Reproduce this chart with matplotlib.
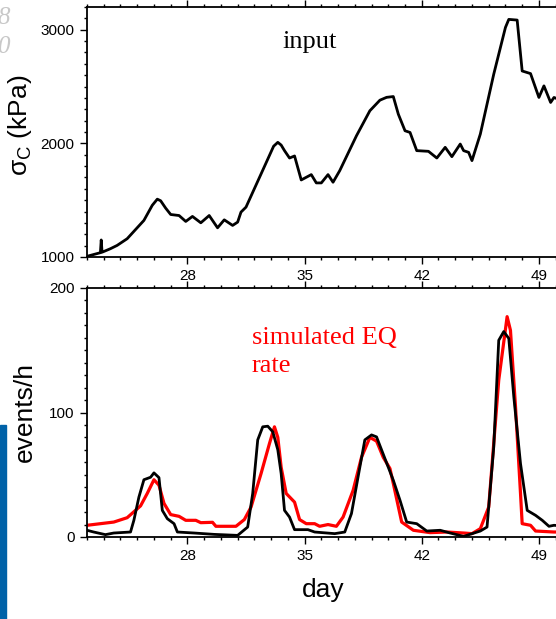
import numpy as np
import matplotlib
matplotlib.use("Agg")
import matplotlib.pyplot as plt
from matplotlib.ticker import MultipleLocator
from matplotlib.patches import Rectangle

plt.rcParams["font.family"] = ["Liberation Sans", "DejaVu Sans"]
plt.rcParams["mathtext.fontset"] = "custom"
plt.rcParams["mathtext.rm"] = "Liberation Sans"
plt.rcParams["mathtext.it"] = "Liberation Sans"

# stress input, kPa
day_in = [22.0, 22.8, 22.85, 22.9, 23.4, 23.8, 24.4, 25.4, 25.9, 26.2, 26.4, 26.7, 27.0,
          27.5, 27.9, 28.3, 28.8, 29.3, 29.8, 30.2, 30.7, 31.0, 31.2, 31.5, 32.4,
          33.15, 33.4, 33.6, 33.8, 34.1, 34.4, 34.8, 35.4, 35.7, 36.0, 36.4, 36.7,
          37.1, 38.1, 38.9, 39.5, 39.9, 40.3, 40.6, 41.0, 41.3, 41.7, 42.4, 42.9,
          43.4, 43.8, 44.3, 44.5, 44.8, 45.0, 45.5, 46.3, 47.0, 47.2, 47.7, 48.0,
          48.5, 49.0, 49.3, 49.7, 49.9, 50.3]
stress = [1006, 1038, 1150, 1042, 1073, 1102, 1161, 1322, 1455, 1509, 1495, 1430, 1374,
          1365, 1313, 1357, 1301, 1365, 1257, 1327, 1278, 1307, 1395, 1439, 1731,
          1975, 2009, 1985, 1936, 1871, 1889, 1678, 1725, 1652, 1652, 1725, 1658,
          1760, 2067, 2287, 2380, 2405, 2412, 2257, 2111, 2096, 1936, 1930, 1871,
          1965, 1883, 1994, 1936, 1921, 1848, 2082, 2608, 3020, 3091, 3085, 2637,
          2614, 2404, 2506, 2360, 2404, 2380]

# simulated EQ rate (red)
day_sim = [22.0, 23.6, 24.4, 25.2, 25.6, 26.0, 26.3, 26.6, 27.0, 27.5, 27.9, 28.5, 28.8,
           29.5, 29.7, 30.9, 31.4, 31.8, 32.4, 32.9, 33.2, 33.4, 33.6, 33.9, 34.4,
           34.7, 35.1, 35.6, 35.9, 36.4, 36.9, 37.3, 37.9, 38.4, 38.9, 39.3, 39.7,
           40.1, 40.3, 40.8, 41.5, 42.5, 43.5, 44.5, 45.0, 45.5, 46.0, 46.6, 47.1,
           47.3, 47.6, 47.9, 48.0, 48.5, 48.8, 49.9, 50.3]
rate_sim = [9.4, 12, 15.5, 25, 35, 46, 41.6, 27, 18, 16.6, 13.4, 13.4, 11.5,
            11.8, 8.6, 8.6, 14, 24, 51, 75, 88.5, 80, 56, 35, 28,
            14, 10.7, 10.7, 8.6, 10, 8.6, 16, 37.5, 64, 80, 77, 64,
            55, 43, 12, 5.4, 3.5, 4, 3.2, 2.7, 6.7, 24, 126, 177,
            166, 105, 35, 10.7, 9.4, 4.8, 4, 4]

# observed EQ rate (black)
day_obs = [22.0, 22.4, 23.1, 23.6, 24.6, 24.8, 25.1, 25.4, 25.8, 26.0, 26.3, 26.5, 26.8,
           27.2, 27.4, 28.4, 29.6, 31.0, 31.6, 31.9, 32.2, 32.5, 32.8, 33.1, 33.4,
           33.6, 33.8, 34.1, 34.4, 35.2, 35.6, 36.8, 37.4, 37.8, 38.3, 38.6, 39.0,
           39.3, 39.8, 40.3, 40.7, 41.1, 41.7, 42.3, 43.1, 43.7, 44.5, 45.5, 45.9,
           46.3, 46.6, 46.9, 47.2, 47.5, 47.9, 48.3, 48.8, 49.2, 49.6, 49.9, 50.3]
rate_obs = [5.4, 4, 1.9, 3.2, 4, 13.4, 32, 46, 48, 51.5, 47.7, 21.4, 14.7,
            10.7, 4, 3.2, 2.1, 1.3, 8, 35, 78, 88.5, 89, 84.5, 70,
            51, 21.4, 16, 5.9, 5.9, 4, 2.7, 4, 18.8, 56, 78, 82,
            80.4, 63, 45.6, 29.5, 12, 10.7, 4.8, 5.4, 3.2, 0.5, 4.8, 8,
            72, 158, 165, 159.5, 112.6, 59, 21.4, 17.4, 13.4, 8.6, 9.4, 9]

W, H = 556, 619
fig = plt.figure(figsize=(W / 100, H / 100), dpi=100)

def px_axes(x0, y0, x1, y1):
    return fig.add_axes([x0 / W, 1 - y1 / H, (x1 - x0) / W, (y1 - y0) / H])

def px_text(x, y, s, **kw):
    return fig.text(x / W, 1 - y / H, s, **kw)

ax1 = px_axes(87, 7, 559, 257)
ax2 = px_axes(87, 288, 559, 537)

for ax in (ax1, ax2):
    ax.set_xlim(22, 50.2)
    ax.xaxis.set_major_locator(MultipleLocator(7))
    ax.xaxis.set_minor_locator(MultipleLocator(1))
    ax.tick_params(which="both", direction="out", top=True, width=1.0, labelsize=11, pad=4)
    ax.tick_params(which="major", length=5)
    ax.tick_params(which="minor", length=2.5)
    for s in ax.spines.values():
        s.set_linewidth(1.3)

ax1.plot(day_in, stress, color="black", lw=2.0, solid_joinstyle="round")
ax1.set_ylim(1000, 3200)
ax1.yaxis.set_major_locator(MultipleLocator(1000))
ax1.yaxis.set_minor_locator(MultipleLocator(100))
ax1.set_ylabel(r"$\mathregular{\sigma_C}$ (kPa)", fontsize=19)
ax1.yaxis.set_label_coords(-0.112, 0.528)
px_text(310, 42, "input", fontsize=19, family="Liberation Serif", ha="center", va="center")

ax2.plot(day_sim, rate_sim, color="#ff0000", lw=2.3, solid_joinstyle="round")
ax2.plot(day_obs, rate_obs, color="black", lw=2.0, solid_joinstyle="round")
ax2.set_ylim(0, 200)
ax2.yaxis.set_major_locator(MultipleLocator(100))
ax2.yaxis.set_minor_locator(MultipleLocator(10))
ax2.set_ylabel("events/h", fontsize=19)
ax2.yaxis.set_label_coords(-0.107, 0.5)
ax2.set_xlabel("day", fontsize=19)
ax2.xaxis.set_label_coords(0.5, -0.165)

px_text(252, 352, "simulated EQ\nrate", color="#ff0000", fontsize=19,
        family="Liberation Serif", ha="left", va="center", linespacing=1.38)

# cropping artefacts at the left edge
px_text(9.5, 18, "8", color="#c8c8c8", fontsize=18, style="italic",
        family="Liberation Serif", ha="right", va="center")
px_text(9.5, 47, "0", color="#c8c8c8", fontsize=18, style="italic",
        family="Liberation Serif", ha="right", va="center")
fig.patches.append(Rectangle((0, 0), 6 / W, 1 - 425 / H, transform=fig.transFigure,
                             color="#0062a8", zorder=5))

fig.savefig("out.png", dpi=100)
